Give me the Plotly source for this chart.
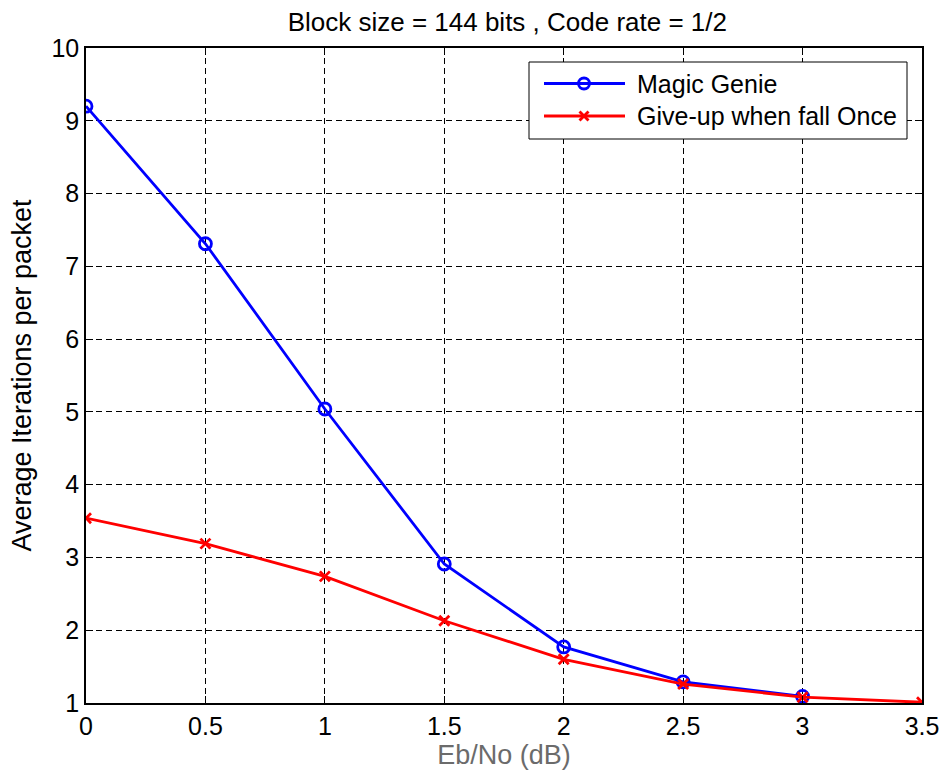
import plotly.graph_objects as go

# Eb/No operating points (dB)
ebno = [0, 0.5, 1, 1.5, 2, 2.5, 3, 3.5]

# Average decoder iterations per packet
magic_genie = [9.2, 7.31, 5.04, 2.91, 1.77, 1.29, 1.09]
give_up_once = [3.54, 3.19, 2.74, 2.13, 1.60, 1.26, 1.08, 1.01]

series_names = ["Magic Genie", "Give-up when fall Once"]
series_colors = ["#0000ff", "#ff0000"]

x_ticks = [0, 0.5, 1, 1.5, 2, 2.5, 3, 3.5]
x_tick_text = ["0", "0.5", "1", "1.5", "2", "2.5", "3", "3.5"]
y_ticks = list(range(1, 11))

font_family = "Liberation Sans, Arial, sans-serif"

W, H = 943, 781
M_L, M_R, M_T, M_B = 86, 21, 48, 78
PLOT_W = W - M_L - M_R
PLOT_H = H - M_T - M_B


def px_x(px):
    """Page pixel column -> paper x fraction."""
    return (px - M_L) / PLOT_W


def px_y(py):
    """Page pixel row -> paper y fraction."""
    return (H - M_B - py) / PLOT_H


fig = go.Figure()

fig.add_trace(go.Scatter(
    x=ebno[:len(magic_genie)], y=magic_genie,
    mode="lines+markers", name=series_names[0],
    line=dict(color=series_colors[0], width=2.8),
    marker=dict(symbol="circle-open", size=12, color=series_colors[0],
                line=dict(width=2.8, color=series_colors[0])),
))

fig.add_trace(go.Scatter(
    x=ebno, y=give_up_once,
    mode="lines+markers", name=series_names[1],
    line=dict(color=series_colors[1], width=2.8),
    marker=dict(symbol="x-thin", size=10, color=series_colors[1],
                line=dict(width=2.8, color=series_colors[1])),
))

axis_common = dict(
    showline=True, linecolor="black", linewidth=1.5, mirror="ticks",
    ticks="inside", ticklen=7, tickcolor="black", tickwidth=1,
    showgrid=True, gridcolor="black", gridwidth=1, griddash="6px,4px",
    zeroline=False, automargin=False,
    tickfont=dict(family=font_family, size=25, color="black"),
)

fig.update_xaxes(
    range=[0, 3.5], tickmode="array", tickvals=x_ticks, ticktext=x_tick_text,
    title=dict(text="Eb/No (dB)", standoff=4,
               font=dict(family=font_family, size=27, color="#6b6b6b")),
    **axis_common,
)
fig.update_yaxes(
    range=[1, 10], tickmode="array", tickvals=y_ticks,
    title=dict(text="Average Iterations per packet", standoff=12,
               font=dict(family=font_family, size=27, color="black")),
    **axis_common,
)

# MATLAB-style legend box with long line samples
shapes = [dict(type="rect", xref="paper", yref="paper",
               x0=px_x(529), x1=px_x(907), y0=px_y(139), y1=px_y(62),
               line=dict(color="black", width=1), fillcolor="white",
               layer="above")]
annotations = []
row_y = [83.5, 116]
marker_x = 584
for i, (name, color) in enumerate(zip(series_names, series_colors)):
    yy = px_y(row_y[i])
    shapes.append(dict(type="line", xref="paper", yref="paper",
                       x0=px_x(544), x1=px_x(625), y0=yy, y1=yy,
                       line=dict(color=color, width=2.8), layer="above"))
    if i == 0:
        shapes.append(dict(type="circle", xref="paper", yref="paper",
                           xsizemode="pixel", ysizemode="pixel",
                           xanchor=px_x(marker_x), yanchor=yy,
                           x0=-5.5, x1=5.5, y0=-5.5, y1=5.5,
                           line=dict(color=color, width=2.8),
                           fillcolor="rgba(0,0,0,0)", layer="above"))
    else:
        for sgn in (1, -1):
            shapes.append(dict(type="line", xref="paper", yref="paper",
                               xsizemode="pixel", ysizemode="pixel",
                               xanchor=px_x(marker_x), yanchor=yy,
                               x0=-4.5, x1=4.5, y0=-4.5 * sgn, y1=4.5 * sgn,
                               line=dict(color=color, width=2.8),
                               layer="above"))
    annotations.append(dict(text=name, xref="paper", yref="paper",
                            x=px_x(635), y=yy, xanchor="left",
                            yanchor="middle", showarrow=False,
                            font=dict(family=font_family, size=25,
                                      color="black")))

fig.update_layout(
    width=W, height=H,
    margin=dict(l=M_L, r=M_R, t=M_T, b=M_B),
    paper_bgcolor="white", plot_bgcolor="white",
    title=dict(text="Block size = 144 bits , Code rate = 1/2",
               x=0.538, xanchor="center", y=0.972, yanchor="middle",
               font=dict(family=font_family, size=26, color="black")),
    showlegend=False,
    shapes=shapes,
    annotations=annotations,
)

fig.write_html("out.html")
